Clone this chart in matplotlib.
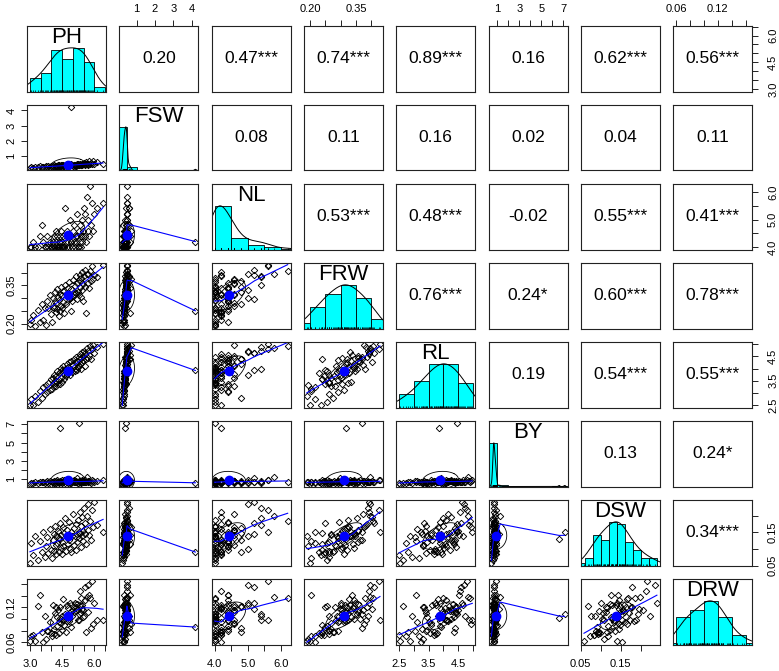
import numpy as np
import matplotlib
matplotlib.use("Agg")
import matplotlib.pyplot as plt

plt.rcParams['font.family'] = ['Liberation Sans', 'DejaVu Sans']

names = ["PH", "FSW", "NL", "FRW", "RL", "BY", "DSW", "DRW"]

ph = [3.00, 3.05, 3.12, 3.25, 3.38, 3.46, 3.55, 3.62, 3.70, 3.74,
      3.80, 3.86, 3.92, 3.98, 4.03, 4.06, 4.10, 4.13, 4.17, 4.20,
      4.22, 4.25, 4.28, 4.30, 4.33, 4.36, 4.38, 4.41, 4.44, 4.46,
      4.48, 4.49, 4.53, 4.56, 4.60, 4.63, 4.66, 4.70, 4.73, 4.76,
      4.80, 4.83, 4.86, 4.90, 4.93, 4.97, 5.02, 5.04, 5.07, 5.10,
      5.12, 5.15, 5.18, 5.20, 5.23, 5.26, 5.28, 5.31, 5.34, 5.36,
      5.39, 5.42, 5.44, 5.46, 5.48, 5.52, 5.55, 5.58, 5.62, 5.65,
      5.68, 5.72, 5.76, 5.80, 5.84, 5.88, 5.92, 5.96, 6.12, 6.40]
fsw = [0.22, 0.26, 0.24, 0.30, 0.28, 0.33, 0.27, 0.31, 0.29, 0.35,
       0.26, 0.33, 0.30, 0.38, 0.28, 0.34, 0.31, 0.40, 0.36, 0.29,
       0.33, 0.37, 0.30, 0.42, 0.34, 0.39, 0.35, 0.32, 0.44, 0.37,
       0.41, 0.31, 0.36, 0.43, 0.34, 0.40, 0.38, 0.46, 0.35, 0.41,
       0.37, 0.44, 0.39, 4.20, 0.48, 0.42, 0.36, 0.45, 0.40, 0.45,
       0.43, 0.38, 0.47, 0.41, 0.49, 0.44, 0.40, 0.47, 0.46, 0.42,
       0.43, 0.48, 0.44, 0.46, 0.47, 0.58, 0.45, 0.50, 0.62, 0.49,
       0.44, 0.47, 0.66, 0.48, 0.58, 0.50, 0.71, 0.49, 0.60, 0.48]
nl = [4.0, 4.0, 4.2, 4.0, 4.0, 4.4, 4.8, 4.2, 4.0, 4.0,
      4.4, 4.0, 4.2, 4.0, 4.0, 4.2, 4.4, 4.0, 4.0, 4.6,
      4.2, 4.0, 4.4, 4.0, 4.2, 4.0, 4.2, 4.4, 4.0, 4.6,
      4.0, 4.2, 4.0, 4.4, 4.0, 5.4, 4.2, 4.0, 4.6, 4.2,
      4.4, 4.0, 5.0, 4.2, 4.4, 4.0, 4.6, 4.2, 4.8, 4.0,
      4.4, 4.2, 5.2, 4.4, 4.0, 4.0, 4.6, 4.2, 4.8, 4.4,
      4.0, 5.0, 4.2, 4.6, 4.4, 5.4, 4.4, 5.2, 4.2, 5.8,
      4.6, 5.0, 4.4, 6.2, 4.8, 5.6, 4.6, 5.2, 5.4, 5.6]
frw = [0.200, 0.215, 0.235, 0.190, 0.255, 0.205, 0.275, 0.215, 0.262, 0.195,
       0.290, 0.262, 0.310, 0.238, 0.205, 0.300, 0.268, 0.262, 0.325, 0.282,
       0.245, 0.335, 0.256, 0.305, 0.230, 0.292, 0.316, 0.248, 0.345, 0.270,
       0.310, 0.262, 0.328, 0.285, 0.240, 0.352, 0.278, 0.318, 0.315, 0.340,
       0.295, 0.362, 0.302, 0.250, 0.335, 0.288, 0.372, 0.315, 0.322, 0.348,
       0.320, 0.385, 0.298, 0.358, 0.325, 0.370, 0.312, 0.392, 0.342, 0.305,
       0.378, 0.332, 0.402, 0.355, 0.290, 0.388, 0.345, 0.410, 0.240, 0.395,
       0.358, 0.395, 0.338, 0.405, 0.368, 0.425, 0.375, 0.392, 0.382, 0.428]
rl = [2.52, 2.75, 2.50, 2.88, 2.64, 3.08, 2.80, 3.25, 2.95, 3.32,
      3.05, 3.40, 3.12, 3.55, 3.18, 3.62, 3.28, 3.75, 3.42, 3.30,
      3.68, 3.46, 3.90, 3.38, 3.80, 3.52, 3.85, 3.35, 4.02, 3.60,
      3.95, 3.45, 3.82, 4.10, 3.58, 3.98, 3.70, 4.18, 3.76, 4.05,
      3.88, 4.25, 3.72, 3.92, 4.30, 3.84, 4.15, 3.96, 4.40, 3.90,
      4.22, 4.48, 3.94, 4.32, 4.08, 4.47, 4.12, 4.58, 4.20, 4.42,
      3.98, 4.66, 4.28, 4.50, 4.36, 4.74, 4.10, 4.62, 4.38, 4.85,
      4.45, 4.70, 4.55, 4.92, 4.40, 4.80, 4.96, 4.64, 4.88, 4.99]
by = [0.46, 0.62, 0.58, 0.66, 0.60, 0.70, 0.64, 0.72, 0.59, 0.68,
      0.75, 0.63, 0.80, 0.50, 0.66, 0.71, 0.62, 0.85, 0.69, 0.60,
      0.77, 0.64, 0.92, 0.67, 0.73, 0.58, 6.60, 0.81, 0.65, 0.70,
      0.88, 0.62, 0.74, 0.68, 0.95, 0.61, 0.77, 0.66, 0.83, 0.59,
      0.72, 0.87, 0.63, 0.60, 0.79, 0.69, 0.75, 0.90, 0.64, 0.71,
      0.82, 0.67, 1.12, 0.73, 0.61, 7.10, 0.78, 0.68, 0.84, 0.70,
      0.62, 0.91, 0.75, 0.66, 0.80, 0.69, 0.86, 0.72, 0.64, 1.25,
      0.77, 0.68, 0.85, 0.74, 0.63, 0.88, 0.79, 0.70, 0.82, 0.91]
dsw = [0.058, 0.118, 0.082, 0.140, 0.068, 0.125, 0.092, 0.152, 0.075, 0.108,
       0.135, 0.088, 0.160, 0.098, 0.072, 0.128, 0.145, 0.094, 0.170, 0.112,
       0.084, 0.138, 0.118, 0.155, 0.090, 0.132, 0.129, 0.178, 0.102, 0.142,
       0.086, 0.122, 0.165, 0.108, 0.148, 0.192, 0.095, 0.136, 0.158, 0.115,
       0.182, 0.128, 0.100, 0.091, 0.150, 0.138, 0.205, 0.112, 0.162, 0.140,
       0.096, 0.175, 0.145, 0.122, 0.188, 0.152, 0.132, 0.212, 0.148, 0.105,
       0.168, 0.138, 0.195, 0.155, 0.125, 0.222, 0.146, 0.178, 0.115, 0.198,
       0.158, 0.235, 0.142, 0.185, 0.128, 0.216, 0.165, 0.240, 0.172, 0.152]
drw = [0.062, 0.071, 0.072, 0.061, 0.122, 0.141, 0.078, 0.060, 0.105, 0.066,
       0.079, 0.079, 0.095, 0.076, 0.070, 0.124, 0.082, 0.074, 0.110, 0.120,
       0.072, 0.104, 0.087, 0.115, 0.075, 0.094, 0.101, 0.121, 0.100, 0.093,
       0.106, 0.081, 0.135, 0.099, 0.089, 0.108, 0.077, 0.096, 0.124, 0.119,
       0.097, 0.100, 0.128, 0.086, 0.114, 0.105, 0.115, 0.112, 0.120, 0.128,
       0.113, 0.120, 0.118, 0.126, 0.098, 0.108, 0.098, 0.148, 0.122, 0.110,
       0.137, 0.125, 0.118, 0.116, 0.103, 0.105, 0.133, 0.155, 0.078, 0.138,
       0.112, 0.158, 0.142, 0.136, 0.085, 0.165, 0.092, 0.127, 0.098, 0.099]

# correlation labels of the upper panels, row by row
cor_labels = [
    ["0.20", "0.47***", "0.74***", "0.89***", "0.16", "0.62***", "0.56***"],
    ["0.08", "0.11", "0.16", "0.02", "0.04", "0.11"],
    ["0.53***", "0.48***", "-0.02", "0.55***", "0.41***"],
    ["0.76***", "0.24*", "0.60***", "0.78***"],
    ["0.19", "0.54***", "0.55***"],
    ["0.13", "0.24*"],
    ["0.34***"],
]

# axis ticks and the labels that are shown
ticks = [
    [3.0, 3.5, 4.0, 4.5, 5.0, 5.5, 6.0, 6.5],
    [1, 2, 3, 4],
    [4.0, 4.5, 5.0, 5.5, 6.0],
    [0.20, 0.25, 0.30, 0.35, 0.40],
    [2.5, 3.0, 3.5, 4.0, 4.5, 5.0],
    [1, 2, 3, 4, 5, 6, 7],
    [0.05, 0.10, 0.15, 0.20],
    [0.06, 0.08, 0.10, 0.12, 0.14, 0.16],
]
tick_labels = [
    ["3.0", "", "", "4.5", "", "", "6.0", ""],
    ["1", "2", "3", "4"],
    ["4.0", "", "5.0", "", "6.0"],
    ["0.20", "", "", "0.35", ""],
    ["2.5", "", "3.5", "", "4.5", ""],
    ["1", "", "3", "", "5", "", "7"],
    ["0.05", "", "0.15", ""],
    ["0.06", "", "", "0.12", "", ""],
]
# histogram breaks (start, step, count)
hist_breaks = [(3.0, 0.5, 7), (0.0, 0.5, 9), (4.0, 0.5, 5), (0.15, 0.05, 6),
               (2.5, 0.5, 5), (0.0, 1.0, 8), (0.04, 0.02, 10), (0.04, 0.02, 7)]

data = [np.array(v, float) for v in (ph, fsw, nl, frw, rl, by, dsw, drw)]
n = len(names)

W, H = 779, 671
X0, DX, PW = 27, 92.3, 79
Y0, DY, PH_ = 26, 79, 65.5


def lowess(x, y, f=2 / 3, iters=3):
    o = np.argsort(x, kind="stable")
    x, y = x[o], y[o]
    m = len(x)
    ns = max(min(int(round(f * m)), m), 2)
    rw = np.ones(m)
    fit = np.zeros(m)
    for _ in range(iters + 1):
        for i in range(m):
            d = np.abs(x - x[i])
            h = max(np.sort(d)[ns - 1], 1e-12)
            u = d / h
            w = np.where(u < 0.999, (1 - u ** 3) ** 3, 0.0) * rw
            sw = w.sum()
            if sw <= 0:
                fit[i] = y[i]
                continue
            xm = (w * x).sum() / sw
            ym = (w * y).sum() / sw
            sxx = (w * (x - xm) ** 2).sum()
            if np.sqrt(sxx) > 0.001 * (x[-1] - x[0]):
                b = (w * (x - xm) * (y - ym)).sum() / sxx
                fit[i] = ym + b * (x[i] - xm)
            else:
                fit[i] = ym
        res = y - fit
        s = np.median(np.abs(res))
        if s == 0:
            break
        u = res / (6 * s)
        rw = np.where(np.abs(u) < 1, (1 - u ** 2) ** 2, 0.0)
    return x, fit


def density(x):
    sd = x.std(ddof=1)
    q1, q3 = np.percentile(x, [25, 75])
    lo = min(sd, (q3 - q1) / 1.34)
    if lo <= 0:
        lo = sd
    bw = 1.06 * lo * len(x) ** -0.2 * 1.2
    g = np.linspace(x.min() - 3 * bw, x.max() + 3 * bw, 512)
    d = np.exp(-0.5 * ((g[:, None] - x[None, :]) / bw) ** 2).sum(axis=1)
    return g, d / d.max()


def ellipse(x, y):
    xm, ym = x.mean(), y.mean()
    xs, ys = x.std(ddof=1), y.std(ddof=1)
    r = np.corrcoef(x, y)[0, 1]
    th = np.sign(r) / np.sqrt(2) if abs(r) > 0 else 1 / np.sqrt(2)
    a = np.linspace(0, 2 * np.pi, 52)
    ex = (np.cos(a) * np.sqrt(1 + r) * th - np.sin(a) * np.sqrt(1 - r) * th)
    ey = (np.cos(a) * np.sqrt(1 + r) * th + np.sin(a) * np.sqrt(1 - r) * th)
    return ex * xs + xm, ey * ys + ym, xm, ym


lims = []
for v in data:
    r = v.max() - v.min()
    lims.append((v.min() - 0.04 * r, v.max() + 0.04 * r))

fig = plt.figure(figsize=(W / 100, H / 100), dpi=100)

for i in range(n):
    for j in range(n):
        top = Y0 + DY * i
        ax = fig.add_axes([(X0 + DX * j) / W, 1 - (top + PH_) / H, PW / W, PH_ / H])
        ax.set_xlim(lims[j])
        ax.set_ylim(lims[i])
        for s in ax.spines.values():
            s.set_linewidth(0.8)
            s.set_color("#222222")
        ax.set_xticks([])
        ax.set_yticks([])

        if i == j:
            v = data[i]
            start, step, nb = hist_breaks[i]
            edges = start + step * np.arange(nb + 1)
            # right-closed bins like R's hist()
            cnt = np.histogram(-v, bins=-edges[::-1])[0][::-1]
            ax.set_ylim(0, 1.5)
            ax.bar(edges[:-1], cnt / cnt.max(), width=step, align="edge",
                   color="cyan", edgecolor="black", linewidth=0.6)
            g, d = density(v)
            ax.plot(g, d, color="black", lw=0.7)
            ax.vlines(v, 0, 0.045, color="black", lw=0.5)
            ax.text(0.5, 0.99, names[i], transform=ax.transAxes, ha="center",
                    va="top", fontsize=16)
        elif i > j:
            x, y = data[j], data[i]
            ax.plot(x, y, ls="none", marker="D", ms=3.3, mfc="none",
                    mec="black", mew=0.65)
            ex, ey, xm, ym = ellipse(x, y)
            ax.plot(ex, ey, color="black", lw=0.6)
            ax.plot([xm], [ym], "o", color="blue", ms=6)
            lx, ly = lowess(x, y)
            ax.plot(lx, ly, color="blue", lw=0.8)
        else:
            ax.text(0.5, 0.5, cor_labels[i][j - i - 1], transform=ax.transAxes,
                    ha="center", va="center", fontsize=12.5)

        tk = dict(direction="out", length=4.5, width=0.7, labelsize=8,
                  color="#222222")
        if i == 0 and j % 2 == 1:
            ax.set_xticks(ticks[j])
            ax.set_xticklabels(tick_labels[j])
            ax.tick_params(axis="x", top=True, labeltop=True, bottom=False,
                           labelbottom=False, pad=4, **tk)
        if i == n - 1 and j % 2 == 0:
            ax.set_xticks(ticks[j])
            ax.set_xticklabels(tick_labels[j])
            ax.tick_params(axis="x", pad=6, **tk)
        if j == 0 and i % 2 == 1:
            ax.set_yticks(ticks[i])
            ax.set_yticklabels(tick_labels[i], rotation=90, va="center")
            ax.tick_params(axis="y", pad=3, **tk)
        if j == n - 1 and i % 2 == 0:
            ax.set_yticks(ticks[i])
            ax.set_yticklabels(tick_labels[i], rotation=90, va="center")
            ax.tick_params(axis="y", left=False, labelleft=False, right=True,
                           labelright=True, pad=7, **tk)

fig.savefig("out.png", dpi=100)
